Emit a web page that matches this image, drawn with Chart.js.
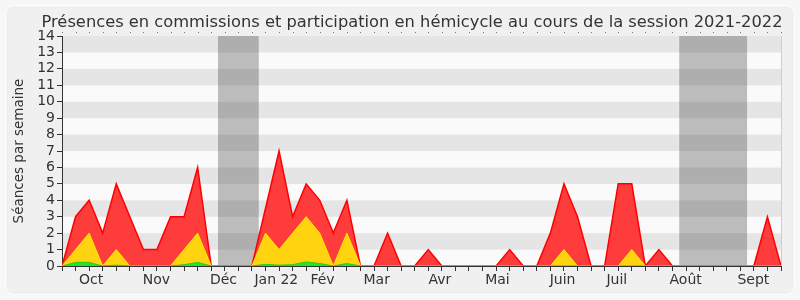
<!DOCTYPE html>
<html>
<head>
<meta charset="utf-8">
<script src="https://cdn.jsdelivr.net/npm/chart.js@4.4.0/dist/chart.umd.min.js"></script>
<style>
  html, body { margin: 0; padding: 0; background: #f7f7f7; }
  #wrap { width: 800px; height: 300px; }
</style>
</head>
<body>
<div id="wrap"><canvas id="chart" width="800" height="300"></canvas></div>
<script>
// Weekly counts, session 2021-2022 (one value per week)
const presences = [0, 3, 4, 2, 5, 3, 1, 1, 3, 3, 6, 0, 0, 0, 0, 3.5, 7, 3, 5, 4, 2, 4, 0, 0, 2, 0, 0,
                   1, 0, 0, 0, 0, 0, 1, 0, 0, 2, 5, 3, 0, 0, 5, 5, 0, 1, 0, 0, 0, 0, 0, 0, 0, 3, 0];
const hemicycle = [0, 1, 2, 0, 1, 0, 0, 0, 0, 1, 2, 0, 0, 0, 0, 2, 1, 2, 3, 2, 0, 2, 0, 0, 0, 0, 0,
                   0, 0, 0, 0, 0, 0, 0, 0, 0, 0, 1, 0, 0, 0, 0, 1, 0, 0, 0, 0, 0, 0, 0, 0, 0, 0, 0];
const interventions = [0, 0.22, 0.22, 0, 0.05, 0, 0, 0, 0, 0.08, 0.22, 0, 0, 0, 0, 0.1, 0.05, 0.08, 0.25, 0.15, 0, 0.15, 0, 0, 0, 0, 0,
                       0, 0, 0, 0, 0, 0, 0, 0, 0, 0, 0, 0, 0, 0, 0, 0, 0, 0, 0, 0, 0, 0, 0, 0, 0, 0, 0];

// Month labels and where they sit on the week axis
const monthLabels = ['Oct', 'Nov', 'Déc', 'Jan 22', 'Fév', 'Mar', 'Avr', 'Mai', 'Juin', 'Juil', 'Août', 'Sept'];
const monthPos = [2.14, 6.96, 11.9, 15.8, 19.2, 23.2, 27.85, 32.1, 36.9, 40.9, 45.97, 50.96];

// Parliamentary breaks (in weeks)
const breakStart = [11.5, 45.5];
const breakEnd = [14.5, 50.5];

const weekIndex = presences.map((_, i) => i);
const textColor = '#333';
const fontFamily = '"DejaVu Sans", Verdana, sans-serif';

const backdrop = {
    id: 'backdrop',
    beforeDraw(chart) {
        const { ctx, chartArea: a, scales: { x, y } } = chart;
        ctx.save();
        // panel
        ctx.fillStyle = '#f0f0f0';
        ctx.strokeStyle = '#ffffff';
        ctx.lineWidth = 1;
        ctx.beginPath();
        ctx.roundRect(5.5, 5.5, 789, 289, 8);
        ctx.fill();
        ctx.stroke();

        // horizontal bands
        for (let v = 0; v < 14; v++) {
            const top = y.getPixelForValue(v + 1);
            const bot = y.getPixelForValue(v);
            ctx.fillStyle = v % 2 ? '#e5e5e5' : '#fafafa';
            ctx.fillRect(a.left, top, a.width, bot - top);
        }

        // breaks
        ctx.fillStyle = 'rgba(72, 72, 72, 0.35)';
        breakStart.forEach((s, k) => {
            const x0 = x.getPixelForValue(s);
            const x1 = x.getPixelForValue(breakEnd[k]);
            ctx.fillRect(x0, a.top, x1 - x0, a.height);
        });

        // right edge and dotted top
        ctx.strokeStyle = '#cfcfcf';
        ctx.beginPath();
        ctx.moveTo(a.right + 0.5, a.top);
        ctx.lineTo(a.right + 0.5, a.bottom);
        ctx.stroke();
        ctx.fillStyle = '#777';
        weekIndex.forEach(i => {
            ctx.fillRect(Math.round(x.getPixelForValue(i)), a.top - 4, 1, 1);
        });
        ctx.restore();
    },
    afterDraw(chart) {
        const ctx = chart.ctx;
        ctx.save();
        ctx.fillStyle = textColor;
        ctx.font = '16.3px ' + fontFamily;
        ctx.textAlign = 'center';
        ctx.textBaseline = 'alphabetic';
        ctx.fillText('Présences en commissions et participation en hémicycle au cours de la session 2021-2022', 412, 27);
        ctx.restore();
    }
};

new Chart(document.getElementById('chart'), {
    type: 'line',
    data: {
        labels: weekIndex,
        datasets: [
            {
                data: interventions,
                borderColor: '#22cc22',
                backgroundColor: '#22e622',
                borderWidth: 1,
                fill: 'origin'
            },
            {
                data: hemicycle,
                borderColor: '#ffee00',
                backgroundColor: '#ffd30f',
                borderWidth: 1,
                fill: 'origin'
            },
            {
                data: presences,
                borderColor: '#ff0000',
                backgroundColor: '#ff3c3c',
                borderWidth: 1.5,
                fill: 'origin'
            }
        ]
    },
    options: {
        responsive: false,
        animation: false,
        layout: { padding: { top: 36, right: 19, bottom: 0, left: 7 } },
        elements: {
            line: { tension: 0 },
            point: { radius: 0 }
        },
        plugins: {
            legend: { display: false },
            tooltip: { enabled: false },
            title: { display: false }
        },
        scales: {
            x: {
                type: 'linear',
                min: 0,
                max: 53,
                afterBuildTicks(scale) {
                    scale.ticks = weekIndex.map(v => ({ value: v }))
                        .concat(monthPos.map(v => ({ value: v })))
                        .sort((p, q) => p.value - q.value);
                },
                ticks: {
                    autoSkip: false,
                    maxRotation: 0,
                    padding: 1,
                    color: textColor,
                    font: { family: fontFamily, size: 14 },
                    callback(value) {
                        const k = monthPos.indexOf(value);
                        return k < 0 ? '' : monthLabels[k];
                    }
                },
                grid: {
                    drawOnChartArea: false,
                    tickLength: 5,
                    tickColor: c => (c.tick && Number.isInteger(c.tick.value)) ? textColor : 'rgba(0,0,0,0)'
                },
                border: { color: textColor },
                afterFit(scale) { scale.height = 34; }
            },
            y: {
                min: 0,
                max: 14,
                ticks: {
                    stepSize: 1,
                    autoSkip: false,
                    padding: 2,
                    color: textColor,
                    font: { family: fontFamily, size: 14 }
                },
                grid: {
                    drawOnChartArea: false,
                    tickLength: 5,
                    tickColor: textColor
                },
                border: { color: textColor },
                title: {
                    display: true,
                    text: 'Séances par semaine',
                    color: textColor,
                    font: { family: fontFamily, size: 13.5 }
                },
                afterFit(scale) { scale.width = 55; }
            }
        }
    },
    plugins: [backdrop]
});
</script>
</body>
</html>
